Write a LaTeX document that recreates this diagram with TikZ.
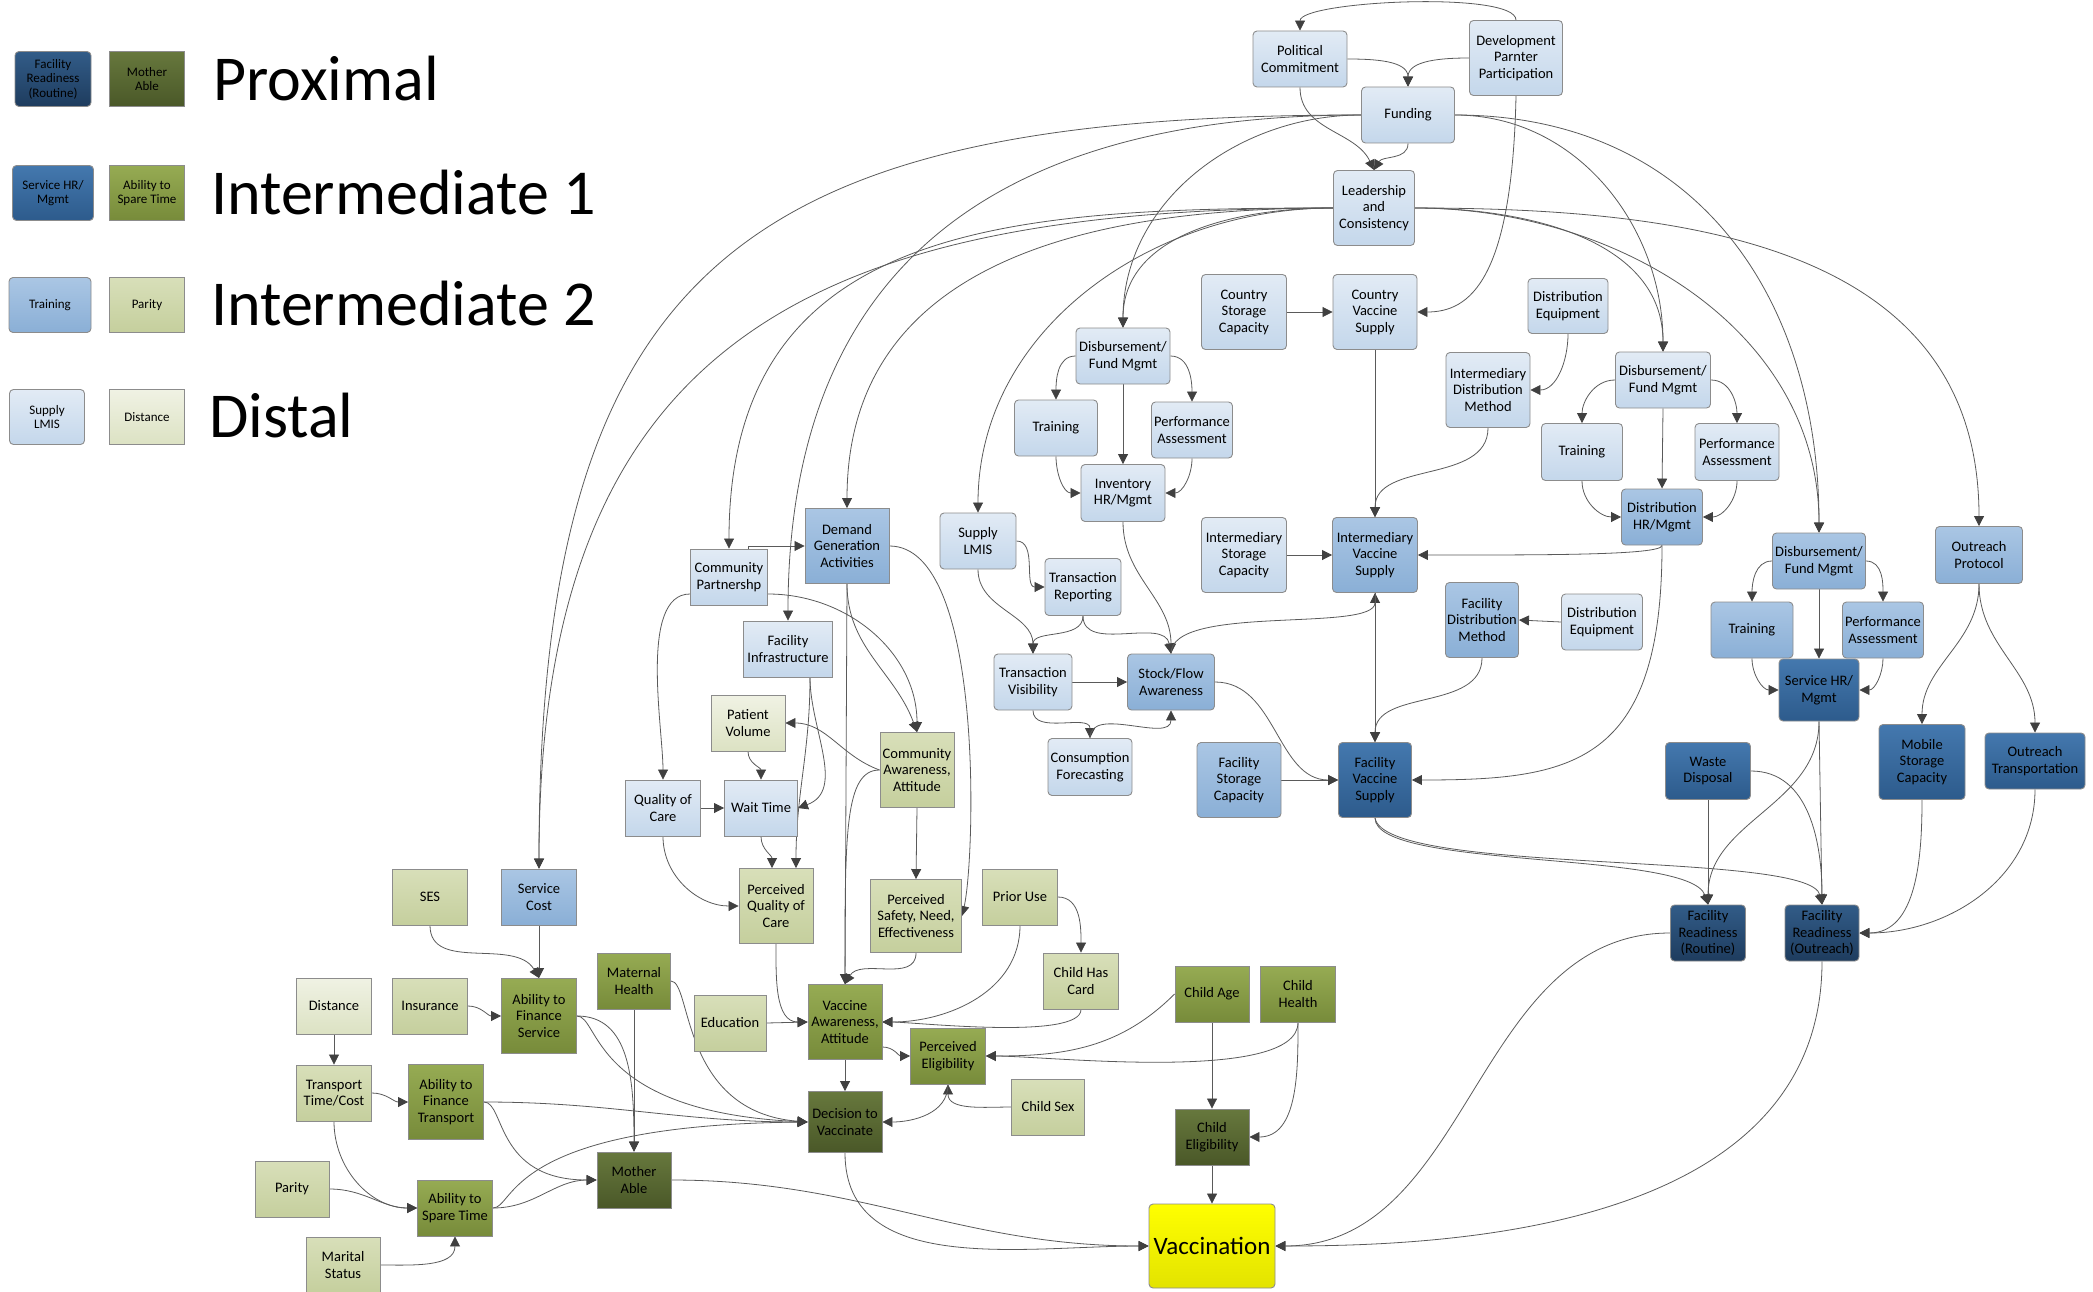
\documentclass[tikz,border=0pt]{standalone}
\usepackage{fontspec}
\setmainfont{Carlito}
\usetikzlibrary{arrows.meta}
\pgfdeclarelayer{bg}
\pgfsetlayers{bg,main}
\definecolor{dBt}{HTML}{E2EBF5}
\definecolor{dBb}{HTML}{C4D7EB}
\definecolor{iiBt}{HTML}{AAC6E4}
\definecolor{iiBb}{HTML}{8AAFD6}
\definecolor{iBt}{HTML}{4478AE}
\definecolor{iBb}{HTML}{2D5B8C}
\definecolor{pBt}{HTML}{325C88}
\definecolor{pBb}{HTML}{1E3C5E}
\definecolor{dGt}{HTML}{F0F2E4}
\definecolor{dGb}{HTML}{DCE2C3}
\definecolor{iiGt}{HTML}{D8DFB9}
\definecolor{iiGb}{HTML}{C5CF9D}
\definecolor{iGt}{HTML}{96AB53}
\definecolor{iGb}{HTML}{778B3A}
\definecolor{pGt}{HTML}{67783D}
\definecolor{pGb}{HTML}{4A5828}
\definecolor{yelT}{HTML}{FFFF00}
\definecolor{yelB}{HTML}{E3E300}
\definecolor{edge}{HTML}{5A5A5A}
\tikzset{
  box/.style={draw=black!45,line width=0.9pt,align=center,inner sep=1pt,
    font=\fontsize{14.5}{16.5}\selectfont},
  sz/.style 2 args={minimum width=#1pt,minimum height=#2pt},
  sup/.style={rounded corners=4pt},
  lg/.style={font=\fontsize{13}{14.5}\selectfont},
  distB/.style={box,top color=dBt,bottom color=dBb},
  int2B/.style={box,top color=iiBt,bottom color=iiBb},
  int1B/.style={box,top color=iBt,bottom color=iBb},
  proxB/.style={box,top color=pBt,bottom color=pBb},
  distG/.style={box,top color=dGt,bottom color=dGb},
  int2G/.style={box,top color=iiGt,bottom color=iiGb},
  int1G/.style={box,top color=iGt,bottom color=iGb},
  proxG/.style={box,top color=pGt,bottom color=pGb},
  lvl/.style={anchor=west,inner sep=0pt,font=\fontsize{64}{72}\selectfont},
  link/.style={draw=edge,line width=0.8pt,-{Triangle[length=10pt,width=10pt,color=black!75]}},
}
\begin{document}
\begin{tikzpicture}[x=1pt,y=1pt]
\useasboundingbox (0,0) rectangle (2093,-1292);
\node[proxB,sup,lg,sz={76}{55}] (lgFR) at (53,-79) {Facility\\Readiness\\(Routine)};
\node[proxG,lg,sz={75}{55}] (lgMA) at (147,-79) {Mother\\Able};
\node[int1B,sup,lg,sz={81}{55}] (lgSH) at (53,-193) {Service HR/\\Mgmt};
\node[int1G,lg,sz={75}{55}] (lgAS) at (147,-193) {Ability to\\Spare Time};
\node[int2B,sup,lg,sz={82}{55}] (lgTR) at (50,-305) {Training};
\node[int2G,lg,sz={75}{55}] (lgPA) at (147,-305) {Parity};
\node[distB,sup,lg,sz={75}{55}] (lgSL) at (47,-417) {Supply\\LMIS};
\node[distG,lg,sz={75}{55}] (lgDI) at (147,-417) {Distance};
\node[lvl] (tProx) at (213,-79) {Proximal};
\node[lvl] (tInt1) at (211,-193) {Intermediate 1};
\node[lvl] (tInt2) at (211,-304) {Intermediate 2};
\node[lvl] (tDist) at (209,-416) {Distal};

\node[distB,sup,sz={94}{56}] (pol) at (1300,-59) {Political\\Commitment};
\node[distB,sup,sz={93}{75}] (dev) at (1516,-58) {Development\\Parnter\\Participation};
\node[distB,sup,sz={93}{56}] (fund) at (1408,-115) {Funding};
\node[distB,sup,sz={81}{75}] (lead) at (1374,-208) {Leadership\\and\\Consistency};
\node[distB,sup,sz={85}{75}] (csc) at (1244,-312) {Country\\Storage\\Capacity};
\node[distB,sup,sz={84}{75}] (cvs) at (1375,-312) {Country\\Vaccine\\Supply};
\node[distB,sup,sz={80}{55}] (deqA) at (1568,-306) {Distribution\\Equipment};
\node[distB,sup,sz={84}{75}] (idm) at (1488,-390) {Intermediary\\Distribution\\Method};
\node[distB,sup,sz={94}{56}] (dfmA) at (1123,-356) {Disbursement/\\Fund Mgmt};
\node[distB,sup,sz={83}{56}] (trA) at (1056,-428) {Training};
\node[distB,sup,sz={81}{56}] (paA) at (1192,-430) {Performance\\Assessment};
\node[distB,sup,sz={84}{57}] (inv) at (1123,-493) {Inventory\\HR/Mgmt};
\node[distB,sup,sz={85}{75}] (isc) at (1244,-555) {Intermediary\\Storage\\Capacity};
\node[int2B,sup,sz={85}{75}] (ivs) at (1375,-555) {Intermediary\\Vaccine\\Supply};
\node[distB,sup,sz={95}{56}] (dfmB) at (1663,-380) {Disbursement/\\Fund Mgmt};
\node[distB,sup,sz={81}{57}] (trB) at (1582,-452) {Training};
\node[distB,sup,sz={84}{57}] (paB) at (1737,-452) {Performance\\Assessment};
\node[int2B,sup,sz={81}{56}] (dhr) at (1662,-517) {Distribution\\HR/Mgmt};
\node[int2B,sup,sz={87}{57}] (op) at (1979,-555) {Outreach\\Protocol};
\node[int2B,sup,sz={93}{56}] (dfmC) at (1819,-561) {Disbursement/\\Fund Mgmt};
\node[int2B,sup,sz={82}{56}] (trC) at (1752,-630) {Training};
\node[int2B,sup,sz={81}{56}] (paC) at (1883,-630) {Performance\\Assessment};
\node[int1B,sup,sz={80}{62}] (shr) at (1819,-690) {Service HR/\\Mgmt};
\node[int2B,sup,sz={73}{75}] (fdm) at (1482,-620) {Facility\\Distribution\\Method};
\node[distB,sup,sz={81}{56}] (deqB) at (1602,-622) {Distribution\\Equipment};
\node[int1B,sup,sz={73}{75}] (fvs) at (1375,-780) {Facility\\Vaccine\\Supply};
\node[int2B,sup,sz={84}{75}] (fsc) at (1239,-780) {Facility\\Storage\\Capacity};
\node[int2B,sup,sz={87}{56}] (sfa) at (1171,-682) {Stock/Flow\\Awareness};
\node[distB,sup,sz={78}{56}] (tvis) at (1033,-682) {Transaction\\Visibility};
\node[distB,sup,sz={76}{57}] (trep) at (1083,-587) {Transaction\\Reporting};
\node[distB,sup,sz={76}{56}] (lmis) at (978,-541) {Supply\\LMIS};
\node[distB,sup,sz={84}{57}] (cfc) at (1090,-767) {Consumption\\Forecasting};
\node[int1B,sup,sz={85}{57}] (wd) at (1708,-771) {Waste\\Disposal};
\node[int1B,sup,sz={86}{75}] (msc) at (1922,-762) {Mobile\\Storage\\Capacity};
\node[int1B,sup,sz={100}{56}] (ot) at (2035,-761) {Outreach\\Transportation};
\node[proxB,sup,sz={75}{56}] (frr) at (1708,-933) {Facility\\Readiness\\(Routine)};
\node[proxB,sup,sz={74}{56}] (fro) at (1822,-933) {Facility\\Readiness\\(Outreach)};

\node[int2B,sz={84}{75}] (dga) at (847,-546) {Demand\\Generation\\Activities};
\node[distB,sz={77}{56}] (cp) at (729,-577) {Community\\Partnershp};
\node[distB,sz={89}{56}] (fi) at (788,-649) {Facility\\Infrastructure};
\node[distG,sz={74}{56}] (pv) at (748,-723) {Patient\\Volume};
\node[int2G,sz={74}{75}] (ca) at (917,-770) {Community\\Awareness,\\Attitude};
\node[distB,sz={75}{56}] (qoc) at (663,-808) {Quality of\\Care};
\node[distB,sz={73}{56}] (wt) at (761,-808) {Wait Time};
\node[int2G,sz={74}{75}] (pqc) at (776,-906) {Perceived\\Quality of\\Care};
\node[int2G,sz={91}{73}] (psn) at (916,-916) {Perceived\\Safety, Need,\\Effectiveness};
\node[int2G,sz={75}{56}] (pu) at (1020,-897) {Prior Use};
\node[int2G,sz={75}{56}] (chc) at (1081,-981) {Child Has\\Card};
\node[int2B,sz={75}{56}] (sc) at (539,-897) {Service\\Cost};
\node[int2G,sz={75}{56}] (ses) at (430,-897) {SES};
\node[int1G,sz={73}{56}] (mh) at (634,-981) {Maternal\\Health};
\node[distG,sz={75}{56}] (dist) at (334,-1006) {Distance};
\node[int2G,sz={75}{56}] (ins) at (430,-1006) {Insurance};
\node[int1G,sz={75}{75}] (afs) at (539,-1016) {Ability to\\Finance\\Service};
\node[int2G,sz={72}{56}] (edu) at (730,-1023) {Education};
\node[int1G,sz={74}{75}] (vaa) at (845,-1022) {Vaccine\\Awareness,\\Attitude};
\node[int1G,sz={75}{56}] (pe) at (948,-1056) {Perceived\\Eligibility};
\node[int2G,sz={73}{56}] (cs) at (1048,-1107) {Child Sex};
\node[int1G,sz={74}{56}] (cage) at (1212,-994) {Child Age};
\node[int1G,sz={75}{56}] (chl) at (1298,-994) {Child\\Health};
\node[proxG,sz={74}{56}] (cel) at (1212,-1137) {Child\\Eligibility};
\node[box,sup,top color=yelT,bottom color=yelB,sz={126}{84},font=\fontsize{25}{30}\selectfont] (vac) at (1212,-1246) {Vaccination};
\node[proxG,sz={74}{61}] (dtv) at (845,-1122) {Decision to\\Vaccinate};
\node[int2G,sz={75}{56}] (ttc) at (334,-1093) {Transport\\Time/Cost};
\node[int1G,sz={75}{75}] (aft) at (446,-1102) {Ability to\\Finance\\Transport};
\node[proxG,sz={74}{56}] (ma) at (634,-1180) {Mother\\Able};
\node[int2G,sz={74}{56}] (par) at (292,-1189) {Parity};
\node[int1G,sz={75}{56}] (ast) at (455,-1208) {Ability to\\Spare Time};
\node[int2G,sz={74}{56}] (ms) at (343,-1265) {Marital\\Status};

\begin{pgfonlayer}{bg}
\draw[link] (dev.north) to[out=90,in=90,looseness=0.35] (pol.north);
\draw[link] (pol.east) to[out=0,in=90] (fund.north);
\draw[link] (dev.west) to[out=180,in=90] (fund.north);
\draw[link] (pol.south) to[out=270,in=115] (lead.north);
\draw[link] (fund.south) to[out=270,in=60] (lead.north);
\draw[link] (dev.south) .. controls (1512,-280) and (1470,-312) .. (cvs.east);
\draw[link] (fund.west) to[out=180,in=90,looseness=1.4] (sc.north);
\draw[link] (lead.west) to[out=180,in=90,looseness=1.3] (sc.north);
\draw[link] (fund.west) to[out=180,in=90,looseness=1.2] (fi.north);
\draw[link] (lead.west) to[out=180,in=90,looseness=1.2] (cp.north);
\draw[link] (lead.west) to[out=180,in=90,looseness=1.1] (dga.north);
\draw[link] (lead.west) to[out=180,in=90] (lmis.north);
\draw[link] (fund.west) to[out=180,in=90] (dfmA.north);
\draw[link] (lead.west) to[out=180,in=90] (dfmA.north);
\draw[link] (fund.east) to[out=0,in=90] (dfmB.north);
\draw[link] (fund.east) to[out=0,in=90,looseness=1.1] (dfmC.north);
\draw[link] (lead.east) to[out=0,in=90] (dfmB.north);
\draw[link] (lead.east) to[out=0,in=90] (dfmC.north);
\draw[link] (lead.east) to[out=0,in=90,looseness=1.1] (op.north);

\draw[link] (csc.east) -- (cvs.west);
\draw[link] (cvs.south) -- (ivs.north);
\draw[link] (deqA.south) to[out=270,in=0] (idm.east);
\draw[link] (idm.south) to[out=270,in=90] (ivs.north);
\draw[link] (dfmA.west) to[out=180,in=90] (trA.north);
\draw[link] (dfmA.east) to[out=0,in=90] (paA.north);
\draw[link] (dfmA.south) -- (inv.north);
\draw[link] (trA.south) to[out=270,in=180] (inv.west);
\draw[link] (paA.south) to[out=270,in=0] (inv.east);
\draw[link] (inv.south) to[out=270,in=90] (sfa.north);
\draw[link] (isc.east) -- (ivs.west);
\draw[link] (dfmB.west) to[out=180,in=90] (trB.north);
\draw[link] (dfmB.east) to[out=0,in=90] (paB.north);
\draw[link] (dfmB.south) -- (dhr.north);
\draw[link] (trB.south) to[out=270,in=180] (dhr.west);
\draw[link] (paB.south) to[out=270,in=0] (dhr.east);
\draw[link] (dhr.south) .. controls +(0,-10) and +(120,0) .. (ivs.east);
\draw[link] (dhr.south) .. controls +(0,-220) and +(160,0) .. (fvs.east);
\draw[link] (lmis.east) to[out=0,in=180] (trep.west);
\draw[link] (lmis.south) to[out=270,in=90] (tvis.north);
\draw[link] (trep.south) to[out=270,in=90] (tvis.north);
\draw[link] (trep.south) to[out=270,in=100] (sfa.north);
\draw[link] (tvis.east) -- (sfa.west);
\draw[link] (tvis.south) to[out=270,in=90] (cfc.north);
\draw[link] (cfc.north) to[out=90,in=270] (sfa.south);
\draw[link] (sfa.north) .. controls +(0,50) and +(0,-40) .. (ivs.south);
\draw[link] (ivs.south) -- (fvs.north);
\draw[link] (sfa.east) to[out=0,in=180] (fvs.west);
\draw[link] (fsc.east) -- (fvs.west);
\draw[link] (fdm.south) to[out=270,in=90] (fvs.north);
\draw[link] (deqB.west) -- (fdm.east);
\draw[link] (fvs.south) .. controls (1375,-870) and (1690,-850) .. (frr.north);
\draw[link] (fvs.south) .. controls (1385,-876) and (1810,-850) .. (fro.north);
\draw[link] (wd.south) -- (frr.north);
\draw[link] (wd.east) to[out=0,in=90] (fro.north);
\draw[link] (shr.south) to[out=270,in=90] (frr.north);
\draw[link] (shr.south) -- (fro.north);
\draw[link] (dfmC.west) to[out=180,in=90] (trC.north);
\draw[link] (dfmC.east) to[out=0,in=90] (paC.north);
\draw[link] (dfmC.south) -- (shr.north);
\draw[link] (trC.south) to[out=270,in=180] (shr.west);
\draw[link] (paC.south) to[out=270,in=0] (shr.east);
\draw[link] (op.south) to[out=270,in=90] (msc.north);
\draw[link] (op.south) to[out=270,in=90] (ot.north);
\draw[link] (msc.south) to[out=270,in=0] (fro.east);
\draw[link] (ot.south) to[out=270,in=0] (fro.east);
\draw[link] (frr.west) to[out=180,in=0] (vac.east);
\draw[link] (fro.south) .. controls (1822,-1230) and (1450,-1246) .. (vac.east);

\draw[link] ([xshift=19pt]cp.north) |- (dga.west);
\draw[link] ([yshift=-17pt]cp.west) to[out=180,in=90,looseness=0.7] (qoc.north);
\draw[link] ([yshift=-17pt]cp.east) to[out=0,in=90] (ca.north);
\draw[link] (dga.south) to[out=270,in=110] (ca.north);
\draw[link] (dga.south) -- (vaa.north);
\draw[link] (dga.east) .. controls (985,-546) and (975,-860) .. (psn.east);
\draw[link] ([xshift=22pt]fi.south) to[out=270,in=20] (wt.east);
\draw[link] ([xshift=22pt]fi.south) to[out=270,in=90] ([xshift=20pt]pqc.north);
\draw[link] (pv.south) to[out=270,in=90] (wt.north);
\draw[link] (ca.west) to[out=160,in=0] (pv.east);
\draw[link] (ca.west) .. controls +(-35,0) and +(0,150) .. (vaa.north);
\draw[link] (ca.south) -- (psn.north);
\draw[link] (qoc.east) -- (wt.west);
\draw[link] (qoc.south) to[out=270,in=180] (pqc.west);
\draw[link] (wt.south) to[out=270,in=90] ([xshift=-4pt]pqc.north);
\draw[link] (pqc.south) to[out=270,in=180] (vaa.west);
\draw[link] (psn.south) to[out=270,in=60] (vaa.north);
\draw[link] (pu.east) to[out=0,in=90] (chc.north);
\draw[link] (pu.south) to[out=270,in=0] (vaa.east);
\draw[link] (chc.south) to[out=270,in=0,looseness=0.4] (vaa.east);
\draw[link] (edu.east) -- (vaa.west);
\draw[link] (vaa.south) -- (dtv.north);
\draw[link] ([yshift=-25pt]vaa.east) to[out=0,in=180] (pe.west);
\draw[link] (cs.west) to[out=180,in=270] (pe.south);
\draw[link] (pe.south) to[out=270,in=0] (dtv.east);
\draw[link] (cage.west) to[out=225,in=0] (pe.east);
\draw[link] (chl.south) to[out=270,in=0,looseness=0.5] (pe.east);
\draw[link] (cage.south) -- (cel.north);
\draw[link] (chl.south) to[out=270,in=0] (cel.east);
\draw[link] (cel.south) -- (vac.north);
\draw[link] (dtv.south) to[out=270,in=180] (vac.west);
\draw[link] (ma.east) to[out=0,in=180] (vac.west);
\draw[link] (ses.south) to[out=270,in=120] (afs.north);
\draw[link] (sc.south) -- (afs.north);
\draw[link] (ins.east) to[out=0,in=180] (afs.west);
\draw[link] (afs.east) .. controls (600,-1016) and (590,-1112) .. (dtv.west);
\draw[link] (afs.east) .. controls (630,-1016) and (634,-1080) .. (ma.north);
\draw[link] (mh.south) -- (ma.north);
\draw[link] (mh.east) .. controls (692,-981) and (680,-1112) .. (dtv.west);
\draw[link] (dist.south) -- (ttc.north);
\draw[link] (ttc.east) to[out=0,in=180] (aft.west);
\draw[link] (ttc.south) to[out=270,in=180] (ast.west);
\draw[link] (par.east) to[out=0,in=180] (ast.west);
\draw[link] (ms.east) to[out=0,in=270] (ast.south);
\draw[link] (aft.east) to[out=0,in=180] (dtv.west);
\draw[link] (aft.east) .. controls (505,-1102) and (495,-1180) .. (ma.west);
\draw[link] (ast.east) to[out=0,in=180] (ma.west);
\draw[link] (ast.east) .. controls (515,-1208) and (505,-1125) .. (dtv.west);
\end{pgfonlayer}
\end{tikzpicture}
\end{document}
